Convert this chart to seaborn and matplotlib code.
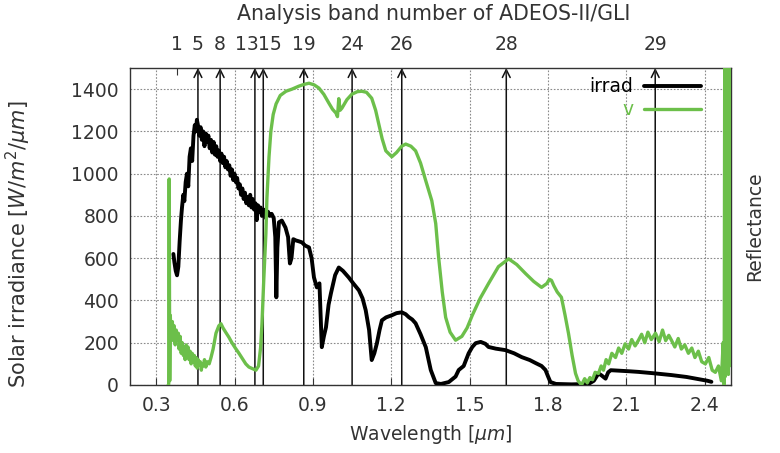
import numpy as np
import pandas as pd
import matplotlib
matplotlib.use("Agg")
import matplotlib.pyplot as plt
import matplotlib.transforms as mtransforms
import seaborn as sns

# solar irradiance at surface (W/m2/um)
irrad_wl = [0.366, 0.370, 0.375, 0.380, 0.385, 0.390, 0.395, 0.399, 0.404, 0.408,
            0.413, 0.418, 0.423, 0.428, 0.433, 0.438, 0.443, 0.448, 0.452, 0.456,
            0.460, 0.465, 0.470, 0.475, 0.480, 0.485, 0.490, 0.495, 0.500, 0.505,
            0.510, 0.515, 0.520, 0.525, 0.530, 0.535, 0.540, 0.545, 0.550, 0.555,
            0.560, 0.565, 0.570, 0.575, 0.580, 0.585, 0.590, 0.595, 0.600, 0.605,
            0.610, 0.615, 0.620, 0.625, 0.630, 0.635, 0.640, 0.645, 0.650, 0.655,
            0.660, 0.665, 0.670, 0.675, 0.680, 0.685, 0.690, 0.695, 0.700, 0.705,
            0.712, 0.720, 0.728, 0.735, 0.742, 0.750, 0.756, 0.760, 0.764, 0.770,
            0.781, 0.795, 0.805, 0.812, 0.818, 0.825, 0.835, 0.846, 0.858, 0.870,
            0.885, 0.895, 0.904, 0.915, 0.925, 0.934, 0.942, 0.950, 0.960, 0.969,
            0.985, 0.999, 1.015, 1.037, 1.055, 1.076, 1.090, 1.102, 1.115, 1.125,
            1.135, 1.145, 1.155, 1.164, 1.180, 1.202, 1.220, 1.240, 1.255, 1.267,
            1.280, 1.293, 1.312, 1.332, 1.351, 1.370, 1.390, 1.420, 1.446, 1.458,
            1.477, 1.496, 1.510, 1.523, 1.542, 1.560, 1.572, 1.600, 1.637, 1.670,
            1.699, 1.730, 1.752, 1.775, 1.790, 1.800, 1.809, 1.830, 1.890, 1.955,
            1.975, 1.993, 2.005, 2.020, 2.030, 2.040, 2.070, 2.110, 2.146, 2.200,
            2.272, 2.330, 2.375, 2.410, 2.425]
irrad = [620, 580, 540, 519, 560, 680, 780, 840, 900, 870,
         960, 1000, 940, 1080, 1120, 1060, 1180, 1230, 1200, 1255,
         1230, 1180, 1220, 1160, 1200, 1130, 1190, 1150, 1180, 1120,
         1160, 1100, 1150, 1090, 1130, 1080, 1110, 1060, 1095, 1050,
         1080, 1030, 1060, 1020, 1040, 990, 1020, 970, 1000, 960,
         980, 930, 950, 900, 930, 880, 910, 860, 890, 850,
         900, 840, 880, 830, 860, 780, 850, 820, 840, 800,
         830, 790, 820, 800, 810, 790, 700, 415, 650, 770,
         778, 745, 700, 575, 600, 690, 684, 680, 675, 660,
         651, 600, 509, 462, 481, 179, 230, 273, 380, 434,
         520, 556, 540, 509, 480, 448, 410, 354, 260, 118,
         150, 198, 260, 306, 320, 330, 340, 344, 335, 321,
         310, 292, 240, 179, 71, 9, 5, 14, 40, 71,
         90, 150, 180, 198, 204, 195, 180, 172, 165, 150,
         132, 118, 104, 90, 71, 40, 14, 5, 3, 5,
         20, 55, 45, 30, 60, 70, 68, 65, 62, 56,
         47, 38, 28, 20, 15]

# vegetation reflectance curve "v", plotted on the same scale
v_wl = [0.346, 0.348, 0.350, 0.352, 0.354, 0.358, 0.362, 0.366, 0.369, 0.373,
        0.377, 0.381, 0.385, 0.388, 0.392, 0.396, 0.400, 0.404, 0.407, 0.411,
        0.415, 0.419, 0.422, 0.426, 0.430, 0.434, 0.438, 0.442, 0.446, 0.450,
        0.453, 0.457, 0.461, 0.465, 0.469, 0.473, 0.476, 0.480, 0.485, 0.490,
        0.496, 0.503, 0.510, 0.518, 0.529, 0.540, 0.548, 0.556, 0.566, 0.579,
        0.590, 0.603, 0.617, 0.630, 0.643, 0.655, 0.668, 0.682, 0.692, 0.700,
        0.705, 0.712, 0.720, 0.724, 0.732, 0.739, 0.748, 0.759, 0.775, 0.797,
        0.820, 0.846, 0.865, 0.885, 0.905, 0.923, 0.942, 0.961, 0.975, 0.988,
        0.994, 0.999, 1.004, 1.011, 1.030, 1.049, 1.070, 1.087, 1.105, 1.125,
        1.140, 1.152, 1.165, 1.179, 1.202, 1.220, 1.240, 1.255, 1.275, 1.293,
        1.312, 1.332, 1.355, 1.370, 1.381, 1.395, 1.408, 1.425, 1.446, 1.470,
        1.490, 1.510, 1.540, 1.572, 1.610, 1.649, 1.680, 1.714, 1.745, 1.775,
        1.795, 1.805, 1.813, 1.822, 1.835, 1.851, 1.865, 1.878, 1.892, 1.905,
        1.915, 1.928, 1.940, 1.950, 1.960, 1.970, 1.980, 1.993, 2.003, 2.012,
        2.022, 2.032, 2.044, 2.058, 2.070, 2.082, 2.095, 2.108, 2.120, 2.133,
        2.146, 2.158, 2.170, 2.182, 2.195, 2.211, 2.225, 2.238, 2.250, 2.262,
        2.272, 2.285, 2.298, 2.310, 2.323, 2.337, 2.350, 2.362, 2.375, 2.388,
        2.402, 2.415, 2.428, 2.440, 2.452, 2.463, 2.470, 2.474, 2.476, 2.478,
        2.480, 2.482, 2.484, 2.486, 2.488, 2.490, 2.492, 2.494, 2.496, 2.498,
        2.500]
v = [0, 0, 975, 20, 330, 230, 300, 210, 280, 190,
     260, 220, 245, 170, 230, 150, 200, 140, 160, 120,
     190, 140, 180, 120, 160, 100, 150, 110, 140, 90,
     130, 80, 120, 95, 110, 70, 100, 90, 120, 85,
     110, 100, 130, 170, 245, 280, 290, 270, 250, 225,
     200, 175, 150, 125, 100, 85, 78, 70, 90, 180,
     290, 500, 715, 885, 1080, 1200, 1280, 1330, 1370, 1390,
     1400, 1414, 1422, 1428, 1420, 1405, 1375, 1334, 1305, 1287,
     1270, 1355, 1300, 1310, 1350, 1376, 1388, 1390, 1385, 1357,
     1300, 1235, 1165, 1108, 1080, 1100, 1130, 1140, 1130, 1108,
     1050, 966, 872, 764, 605, 440, 320, 250, 212, 230,
     270, 330, 410, 480, 560, 597, 570, 527, 490, 462,
     480, 500, 495, 470, 440, 415, 330, 245, 140, 55,
     20, 0, 30, 10, 35, 25, 60, 55, 90, 70,
     120, 100, 150, 130, 175, 150, 195, 170, 215, 185,
     212, 240, 200, 250, 215, 245, 205, 260, 210, 235,
     212, 180, 220, 170, 190, 150, 175, 130, 160, 110,
     100, 130, 70, 60, 90, 20, 200, 0, 1600, 40,
     1600, 60, 1600, 80, 1600, 50, 1600, 90, 1600, 1600,
     1600]

# GLI analysis bands (number, centre wavelength in um)
band_no = ["1", "5", "8", "13", "15", "19", "24", "26", "28", "29"]
band_wl = [0.38, 0.46, 0.545, 0.678, 0.71, 0.865, 1.05, 1.24, 1.64, 2.21]
# label spots nudged apart where 13 and 15 would collide
band_lab_wl = [0.38, 0.46, 0.545, 0.647, 0.735, 0.865, 1.05, 1.24, 1.64, 2.21]

x_ticks = [0.3, 0.6, 0.9, 1.2, 1.5, 1.8, 2.1, 2.4]
y_ticks = [0, 200, 400, 600, 800, 1000, 1200, 1400]

sns.set_style("white")
plt.rcParams["font.family"] = ["DejaVu Sans"]
plt.rcParams["mathtext.fontset"] = "dejavusans"
fs = 13.5
txt = "#333333"

irrad_df = pd.DataFrame({"wl": irrad_wl, "val": irrad})
v_df = pd.DataFrame({"wl": v_wl, "val": v})

fig = plt.figure(figsize=(7.8, 4.53), dpi=100)
ax = fig.add_axes([130 / 780, 68 / 453, 601 / 780, 317 / 453])

black = "#000000"
green = "#6cbf4a"

sns.lineplot(data=irrad_df, x="wl", y="val", ax=ax, color=black, lw=2.8,
             label="irrad", sort=False, estimator=None, zorder=3)
sns.lineplot(data=v_df, x="wl", y="val", ax=ax, color=green, lw=2.4,
             label="v", sort=False, estimator=None, zorder=4)

ax.set_xlim(0.2, 2.5)
ax.set_ylim(0, 1500)
ax.set_xticks(x_ticks)
ax.set_xticklabels([f"{t:.1f}" for t in x_ticks])
ax.set_yticks(y_ticks)
ax.grid(True, color="#8a8a8a", linestyle=(0, (1.5, 1.5)), linewidth=0.8)
ax.tick_params(direction="in", length=5, top=True, right=True,
               labelsize=fs, pad=8, colors=txt)
for s in ax.spines.values():
    s.set_color(txt)
    s.set_linewidth(1.0)

# band arrows (band 1 only has a tick)
for wl in band_wl[1:]:
    ax.annotate("", xy=(wl, 1500), xytext=(wl, 0),
                arrowprops=dict(arrowstyle="->", color="#111111", lw=1.1,
                                mutation_scale=14, shrinkA=0, shrinkB=0),
                zorder=2, annotation_clip=False)

ax.set_xlabel(r"Wavelength [$\mu m$]", fontsize=fs, color=txt, labelpad=6)
ax.set_ylabel(r"Solar irradiance [$W/m^2/\mu m$]", fontsize=15, color=txt)
ax.yaxis.set_label_coords(-0.161, 0.445)
ax.text(1.04, 0.5, "Reflectance", transform=ax.transAxes, rotation=90,
        ha="center", va="center", fontsize=fs, color=txt)

leg = ax.legend(loc="upper right", bbox_to_anchor=(0.965, 1.0), frameon=False,
                markerfirst=False, handlelength=3.0, handletextpad=0.6,
                labelcolor="linecolor", fontsize=fs, borderaxespad=0.1,
                labelspacing=0.2)

# top axis: band ticks, band numbers and its title
ax2 = ax.twiny()
ax2.set_xlim(ax.get_xlim())
ax2.set_xticks(band_wl)
ax2.set_xticklabels([])
ax2.tick_params(direction="in", length=5, colors=txt)
for s in ax2.spines.values():
    s.set_visible(False)
trans = mtransforms.blended_transform_factory(ax.transData, ax.transAxes)
for wl, lab in zip(band_lab_wl, band_no):
    ax.text(wl, 1.075, lab, transform=trans, ha="center", va="center",
            fontsize=fs, color=txt)
ax.text(0.505, 1.17, "Analysis band number of ADEOS-II/GLI", transform=ax.transAxes,
        ha="center", va="center", fontsize=14.8, color=txt)

fig.savefig("out.png", dpi=100)
